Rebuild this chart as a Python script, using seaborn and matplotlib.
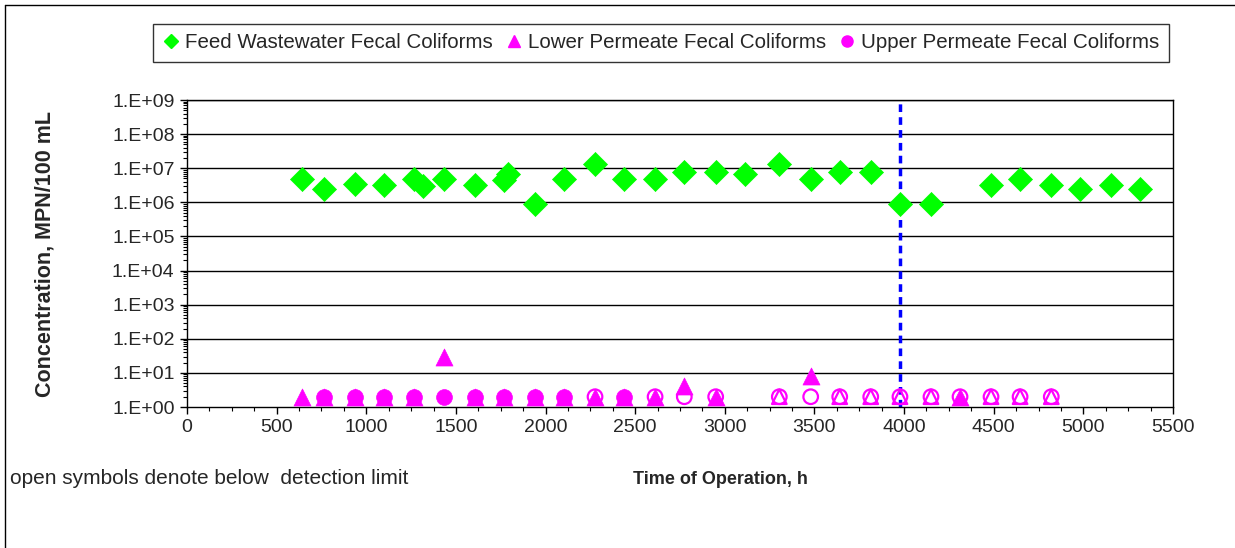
import numpy as np
import pandas as pd
import matplotlib
matplotlib.use("Agg")
import matplotlib.pyplot as plt
from matplotlib.lines import Line2D
from matplotlib.ticker import MultipleLocator, FuncFormatter, LogLocator, NullFormatter
import seaborn as sns

# feed wastewater (green diamonds)
feed_hours = [644, 762, 935, 1098, 1266, 1314, 1433, 1607, 1766, 1790, 1941, 2105, 2276, 2439,
              2611, 2774, 2949, 3111, 3304, 3479, 3641, 3814, 3977, 4150, 4485, 4647, 4821,
              4983, 5154, 5316]
feed_values = [4.7e6, 2.4e6, 3.5e6, 3.2e6, 4.8e6, 3.1e6, 4.8e6, 3.2e6, 4.5e6, 6.9e6, 8.9e5, 4.7e6,
               1.3e7, 4.8e6, 4.8e6, 7.8e6, 7.8e6, 6.8e6, 1.3e7, 4.7e6, 7.9e6, 7.9e6, 8.9e5, 8.9e5,
               3.2e6, 4.7e6, 3.2e6, 2.4e6, 3.2e6, 2.4e6]

# lower permeate (triangles), open = below detection limit
lower_hours = [644, 762, 935, 1098, 1266, 1433, 1607, 1766, 1941, 2105, 2276, 2439, 2611, 2774,
               2949, 3304, 3479, 3641, 3814, 3977, 4150, 4312, 4485, 4647, 4821]
lower_values = [2, 2, 2, 2, 2, 30, 2, 2, 2, 2, 2, 2, 2, 4,
                2, 2, 8, 2, 2, 2, 2, 2, 2, 2, 2]
lower_open = [0, 0, 0, 0, 0, 0, 0, 0, 0, 0, 0, 0, 0, 0,
              0, 1, 0, 1, 1, 1, 1, 0, 1, 1, 1]

# upper permeate (circles)
upper_hours = [762, 935, 1098, 1266, 1433, 1607, 1766, 1941, 2105, 2276, 2439, 2611, 2774,
               2949, 3304, 3479, 3641, 3814, 3977, 4150, 4312, 4485, 4647, 4821]
upper_values = [2] * 24
upper_open = [0, 0, 0, 0, 0, 0, 0, 0, 0, 1, 0, 1, 1,
              1, 1, 1, 1, 1, 1, 1, 1, 1, 1, 1]

change_hour = 3977

sns.set_theme(style="white")
plt.rcParams["font.family"] = ["Liberation Sans", "DejaVu Sans"]

GREEN = "#00FF00"
PINK = "#FF00FF"

feed = pd.DataFrame({"h": feed_hours, "v": feed_values})
lower = pd.DataFrame({"h": lower_hours, "v": lower_values, "open": lower_open})
upper = pd.DataFrame({"h": upper_hours, "v": upper_values, "open": upper_open})

fig = plt.figure(figsize=(12.35, 5.48), dpi=100)
ax = fig.add_axes([187 / 1235, 141 / 548, 986 / 1235, 307 / 548])

ax.set_yscale("log")
ax.set_xlim(0, 5500)
ax.set_ylim(1, 1e9)

for y in 10.0 ** np.arange(1, 10):
    ax.axhline(y, color="black", lw=1, zorder=1)

sns.scatterplot(data=feed, x="h", y="v", marker="D", s=150, color=GREEN,
                edgecolor=GREEN, linewidth=0.5, ax=ax, legend=False, zorder=3)

lf = lower[lower["open"] == 0]
lo = lower[lower["open"] == 1]
sns.scatterplot(data=lf, x="h", y="v", marker="^", s=150, color=PINK,
                edgecolor=PINK, linewidth=0.5, ax=ax, legend=False, zorder=3)
ax.scatter(lo["h"], lo["v"], marker="^", s=110, facecolors="none",
           edgecolors=PINK, linewidths=1.6, zorder=3)

uf = upper[upper["open"] == 0]
uo = upper[upper["open"] == 1]
sns.scatterplot(data=uf, x="h", y="v", marker="o", s=130, color=PINK,
                edgecolor=PINK, linewidth=0.5, ax=ax, legend=False, zorder=4)
ax.scatter(uo["h"], uo["v"], marker="o", s=110, facecolors="none",
           edgecolors=PINK, linewidths=1.6, zorder=4)

ax.axvline(change_hour, color="#0000FF", lw=2.5, linestyle=(0, (2.2, 1.5)), zorder=2)

ax.set_xlabel("")
ax.set_ylabel("")
ax.xaxis.set_major_locator(MultipleLocator(500))
ax.xaxis.set_minor_locator(MultipleLocator(125))
ax.yaxis.set_major_locator(LogLocator(base=10, numticks=20))
ax.yaxis.set_minor_locator(LogLocator(base=10, subs=np.arange(2, 10), numticks=20))
ax.yaxis.set_minor_formatter(NullFormatter())
ax.yaxis.set_major_formatter(FuncFormatter(lambda v, p: "1.E+%02d" % int(round(np.log10(v)))))
ax.tick_params(axis="both", which="major", direction="out", length=5, width=1,
               color="black", labelsize=14, pad=4, bottom=True, left=True)
ax.tick_params(axis="both", which="minor", direction="out", length=3, width=0.8,
               color="black", bottom=True, left=True)
for s in ax.spines.values():
    s.set_color("black")
    s.set_linewidth(1)

fig.text(45 / 1235, 1 - 254 / 548, "Concentration, MPN/100 mL", rotation=90,
         ha="center", va="center", fontsize=15.5, fontweight="bold")
fig.text(720 / 1235, 1 - 480 / 548, "Time of Operation, h",
         ha="center", va="center", fontsize=13, fontweight="bold")
fig.text(10 / 1235, 1 - 479 / 548, "open symbols denote below  detection limit",
         ha="left", va="center", fontsize=15)

handles = [
    Line2D([], [], ls="none", marker="D", color=GREEN, markersize=7),
    Line2D([], [], ls="none", marker="^", color=PINK, markersize=9),
    Line2D([], [], ls="none", marker="o", color=PINK, markersize=8),
]
labels = ["Feed Wastewater Fecal Coliforms", "Lower Permeate Fecal Coliforms",
          "Upper Permeate Fecal Coliforms"]
leg = fig.legend(handles, labels, ncol=3, loc="center",
                 bbox_to_anchor=(661 / 1235, 1 - 43 / 548), fontsize=14.8,
                 frameon=True, fancybox=False, edgecolor="black",
                 handlelength=0.8, handletextpad=0.3, columnspacing=0.6,
                 borderpad=0.45)
leg.get_frame().set_linewidth(1)

# outer chart border (top and left visible)
fig.add_artist(Line2D([5 / 1235, 5 / 1235], [0, 1 - 5 / 548], color="black", lw=1,
                      transform=fig.transFigure))
fig.add_artist(Line2D([5 / 1235, 1], [1 - 5 / 548, 1 - 5 / 548], color="black", lw=1,
                      transform=fig.transFigure))

fig.savefig("out.png", dpi=100, facecolor="white")
